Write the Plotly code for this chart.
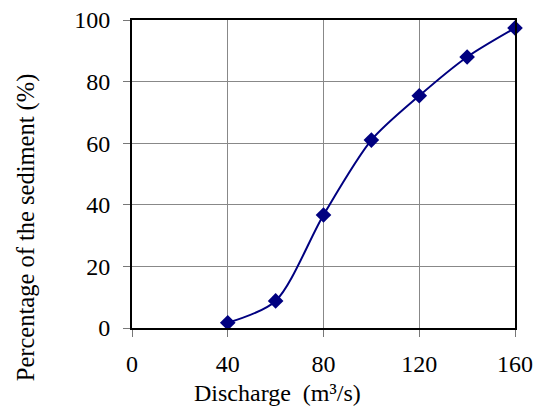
import plotly.graph_objects as go

discharge = [40, 60, 80, 100, 120, 140, 160]
percentage = [1.7, 8.8, 36.7, 61.0, 75.4, 88.0, 97.4]
x_ticks = [0, 40, 80, 120, 160]
y_ticks = [0, 20, 40, 60, 80, 100]
x_title = "Discharge\u00a0 (m\u00b3/s)"
y_title = "Percentage of the sediment (%)"

font = "Liberation Serif, Times New Roman, serif"

fig = go.Figure()
fig.add_trace(go.Scatter(
    x=discharge, y=percentage, mode="lines+markers",
    line=dict(color="#000080", width=2, shape="spline", smoothing=0.8),
    marker=dict(symbol="diamond", size=12, color="#000080"),
    showlegend=False, cliponaxis=False,
))

fig.update_layout(
    width=535, height=406,
    margin=dict(l=132, r=20, t=20, b=78),
    paper_bgcolor="white", plot_bgcolor="white",
    font=dict(family=font, size=24, color="black"),
    annotations=[
        dict(text=x_title, xref="paper", yref="paper", x=0.379, y=-0.211,
             xanchor="center", yanchor="middle", showarrow=False,
             font=dict(size=24)),
        dict(text=y_title, xref="paper", yref="paper", x=-0.276, y=0.325,
             xanchor="center", yanchor="middle", showarrow=False, textangle=-90,
             font=dict(size=24.5)),
    ],
)
fig.update_xaxes(
    range=[0, 160], tickvals=x_ticks, ticks="outside", ticklen=7, tickcolor="#777",
    ticklabelstandoff=6, automargin=False, ticklabeloverflow="allow",
    showgrid=True, gridcolor="#888", gridwidth=1,
    showline=True, linecolor="black", linewidth=2, mirror=True, zeroline=False,
)
fig.update_yaxes(
    range=[0, 100], tickvals=y_ticks, ticks="outside", ticklen=7, tickcolor="#777",
    ticklabelstandoff=8, automargin=False, ticklabeloverflow="allow",
    showgrid=True, gridcolor="#888", gridwidth=1,
    showline=True, linecolor="black", linewidth=2, mirror=True, zeroline=False,
)
fig.write_html("out.html", config={"displayModeBar": False},
               post_script="document.body.style.margin='0';")
